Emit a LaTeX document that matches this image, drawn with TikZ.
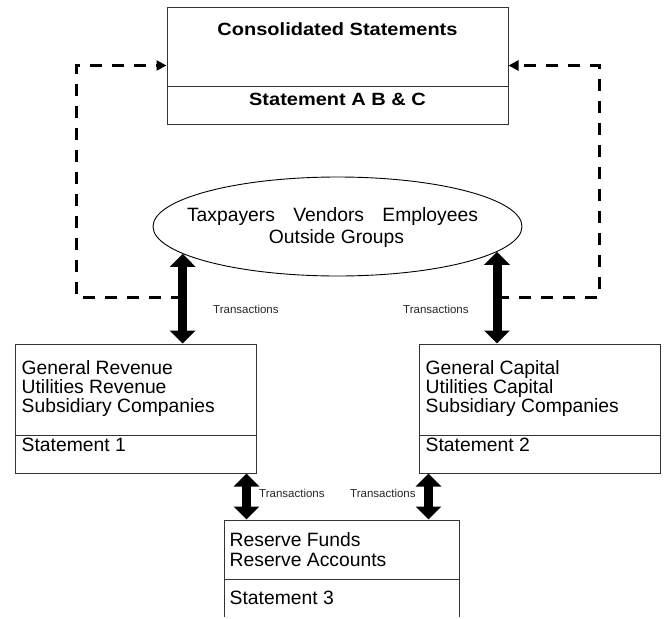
\documentclass[tikz,border=0pt]{standalone}
\usepackage{fontspec}
\setmainfont{Liberation Sans}
\newfontfamily\boldwide[FakeStretch=1.13]{Liberation Sans Bold}
\usetikzlibrary{arrows.meta,calc,shapes.geometric}
\tikzset{
  box/.style={draw=black!80, line width=1pt, inner sep=0pt, rectangle},
  divider/.style={draw=black!80, line width=1pt},
  ln/.style={anchor=base west, inner sep=0pt, font=\fontsize{19.3}{19}\selectfont},
  ttl/.style={anchor=base, inner sep=0pt, font=\boldwide\fontsize{17.7}{18}\selectfont},
  trans/.style={anchor=base west, inner sep=0pt, font=\fontsize{11.5}{12}\selectfont, text=black!85},
  bigarrow/.style={line width=9pt, {Triangle[length=13pt,width=25pt]}-{Triangle[length=13pt,width=25pt]}},
  dasharrow/.style={line width=3pt, dash pattern=on 12pt off 10pt, -{Triangle[length=10pt,width=10pt]}},
}
\begin{document}
\begin{tikzpicture}[x=1pt,y=-1pt]
\useasboundingbox (0,0) rectangle (665,619);
\clip (0,0) rectangle (665,616);

% boxes
\node[box, minimum width=341pt, minimum height=117pt] (top) at (337.5,65.5) {};
\node[box, minimum width=241pt, minimum height=129pt] (lbox) at (135.5,408.5) {};
\node[box, minimum width=241pt, minimum height=129pt] (rbox) at (539.5,408.5) {};
\node[box, minimum width=235pt, minimum height=110pt] (bbox) at (341.5,575) {};
\node[ellipse, draw=black, line width=0.9pt, minimum width=369pt, minimum height=99pt, inner sep=0pt] (ext) at (337.5,226.5) {};

% dividers
\draw[divider] ([yshift=-80pt]top.north west) -- ([yshift=-80pt]top.north east);
\draw[divider] ([yshift=-92pt]lbox.north west) -- ([yshift=-92pt]lbox.north east);
\draw[divider] ([yshift=-92pt]rbox.north west) -- ([yshift=-92pt]rbox.north east);
\draw[divider] ([yshift=-60pt]bbox.north west) -- ([yshift=-60pt]bbox.north east);

% top texts
\node[ttl] (t1) at ($(top.north)+(0,29)$) {Consolidated Statements};
\node[ttl] (t2) at ($(top.north)+(0,99)$) {Statement A B \& C};

% ellipse texts
\node[anchor=base, inner sep=0pt, font=\fontsize{19.3}{19}\selectfont] (e1) at ($(ext.center)+(-5,-5.5)$) {Taxpayers\hspace{13pt} Vendors\hspace{13pt} Employees};
\node[anchor=base, inner sep=0pt, font=\fontsize{19.3}{19}\selectfont] (e2) at ($(ext.center)+(-1,16.5)$) {Outside Groups};

% left box texts
\node[ln] (l1) at ($(lbox.north west)+(7,31)$) {General Revenue};
\node[ln] (l2) at ($(lbox.north west)+(7,50)$) {Utilities Revenue};
\node[ln] (l3) at ($(lbox.north west)+(7,69)$) {Subsidiary Companies};
\node[ln] (l4) at ($(lbox.north west)+(7,108)$) {Statement 1};

% right box texts
\node[ln] (r1) at ($(rbox.north west)+(7,31)$) {General Capital};
\node[ln] (r2) at ($(rbox.north west)+(7,50)$) {Utilities Capital};
\node[ln] (r3) at ($(rbox.north west)+(7,69)$) {Subsidiary Companies};
\node[ln] (r4) at ($(rbox.north west)+(7,108)$) {Statement 2};

% bottom box texts
\node[ln] (b1) at ($(bbox.north west)+(6,27)$) {Reserve Funds};
\node[ln] (b2) at ($(bbox.north west)+(6,47)$) {Reserve Accounts};
\node[ln] (b3) at ($(bbox.north west)+(6,85)$) {Statement 3};

% dashed connectors
\coordinate (dl) at (76,297);
\coordinate (dr) at (599,297);
\draw[dasharrow] (ext.190.4 |- dl) -- (dl) -- (dl |- top.west) -- (top.west);
\draw[dasharrow] (ext.-9.7 |- dr) -- (dr) -- (dr |- top.east) -- (top.east);

% thick transaction arrows
\draw[bigarrow] (ext.190.4) -- (ext.190.4 |- lbox.north);
\draw[bigarrow] (ext.-9.7) -- (ext.-9.7 |- rbox.north);
\coordinate (la) at ([xshift=-10pt]lbox.south east);
\coordinate (ra) at ([xshift=10pt]rbox.south west);
\draw[bigarrow] (la) -- (la |- bbox.north);
\draw[bigarrow] (ra) -- (ra |- bbox.north);

% transaction labels
\node[trans] (tr1) at (213,313) {Transactions};
\node[trans] (tr2) at (403,313) {Transactions};
\node[trans] (tr3) at (259,497) {Transactions};
\node[trans] (tr4) at (350,497) {Transactions};
\end{tikzpicture}
\end{document}
